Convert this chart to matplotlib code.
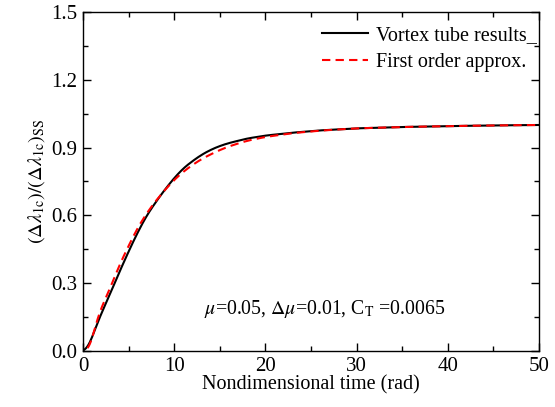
import matplotlib
matplotlib.use('Agg')
import matplotlib.pyplot as plt
from matplotlib.ticker import MultipleLocator, FormatStrFormatter
import numpy as np

plt.rcParams['font.family'] = ['Liberation Serif', 'DejaVu Serif']
plt.rcParams['mathtext.fontset'] = 'stix'

# vortex tube results
t_vortex = [0.0, 0.3, 0.6, 1.0, 1.5, 2.0, 3.0, 4.0, 5.0, 6.0, 7.0, 8.0, 9.0, 10.0,
            11.0, 12.0, 13.0, 14.0, 15.0, 16.0, 18.0, 20.0, 23.0, 26.0, 30.0,
            35.0, 40.0, 45.0, 50.0]
y_vortex = [0.0, 0.003, 0.02, 0.06, 0.115, 0.165, 0.255, 0.35, 0.44, 0.525, 0.60,
            0.66, 0.715, 0.765, 0.808, 0.84, 0.868, 0.89, 0.907, 0.92, 0.94,
            0.953, 0.966, 0.976, 0.985, 0.991, 0.995, 0.998, 1.0]

# first order approximation
t_first = [0.5, 0.8, 1.0, 1.5, 2.0, 3.0, 4.0, 5.0, 6.0, 7.0, 8.0, 9.0, 10.0, 11.0,
           12.0, 13.0, 14.0, 15.0, 16.0, 17.0, 18.0, 20.0, 23.0, 26.0, 30.0,
           35.0, 40.0, 45.0, 50.0]
y_first = [0.0, 0.025, 0.05, 0.135, 0.19, 0.28, 0.38, 0.465, 0.545, 0.61, 0.665,
           0.713, 0.757, 0.793, 0.823, 0.849, 0.87, 0.889, 0.905, 0.918, 0.93,
           0.947, 0.964, 0.975, 0.985, 0.991, 0.995, 0.998, 1.0]


def smooth(t, y):
    # resample the read points and round off the corners a little
    tt = np.linspace(t[0], t[-1], 400)
    yy = np.interp(tt, t, y)
    k = np.ones(9) / 9.0
    ys = np.convolve(np.pad(yy, 4, mode='edge'), k, mode='valid')
    return tt, ys


fig = plt.figure(figsize=(5.55, 4.07), dpi=100)
ax = fig.add_axes([0.1495, 0.1376, 0.8215, 0.833])

tv, yv = smooth(t_vortex, y_vortex)
tf, yf = smooth(t_first, y_first)
ax.plot(tv, yv, color='black', lw=1.5, label='Vortex tube results_')
ax.plot(tf, yf, color='red', lw=1.5, dashes=(4, 2.5), label='First order approx.')

ax.set_xlim(0, 50)
ax.set_ylim(0, 1.5)
ax.xaxis.set_major_locator(MultipleLocator(10))
ax.xaxis.set_minor_locator(MultipleLocator(5))
ax.yaxis.set_major_locator(MultipleLocator(0.3))
ax.yaxis.set_minor_locator(MultipleLocator(0.15))
ax.yaxis.set_major_formatter(FormatStrFormatter('%.1f'))
ax.tick_params(which='both', direction='in', top=True, right=True, labelsize=15,
               width=1.0)
ax.tick_params(which='major', length=6, pad=4)
ax.tick_params(which='minor', length=3.5)
for s in ax.spines.values():
    s.set_linewidth(1.0)

ax.set_xlabel('Nondimensional time (rad)', fontsize=14.5, labelpad=0)
ax.set_ylabel(r'$(\Delta\lambda_{\mathrm{1c}})/(\Delta\lambda_{\mathrm{1c}})_{\mathrm{SS}}$',
              fontsize=14.5, labelpad=3)

ax.text(0.265, 0.11, r'$\mu$=0.05, $\Delta\mu$=0.01, C$_{\mathrm{T}}$ =0.0065',
        transform=ax.transAxes, fontsize=14.2)

ax.legend(loc='upper right', bbox_to_anchor=(1.022, 0.995), frameon=False,
          fontsize=14.5, handlelength=2.3, handletextpad=0.4, borderaxespad=0.2,
          labelspacing=0.4)

plt.savefig('out.png', dpi=100)
